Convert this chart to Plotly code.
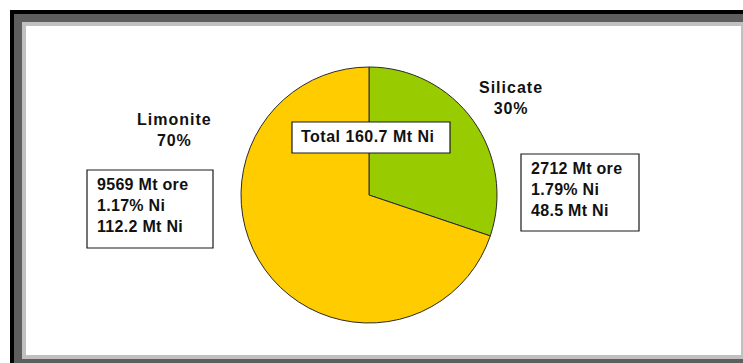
import plotly.graph_objects as go

# Nickel resources by ore type
ore_types = ["Silicate", "Limonite"]
ore_mt = [2712, 9569]          # Mt of ore
grade_pct = [1.79, 1.17]       # % Ni
ni_mt = [48.5, 112.2]          # Mt contained Ni
slice_colors = ["#99CC00", "#FFCC00"]

W, H = 743, 363
total_ni = sum(ni_mt)
shares = [v / total_ni * 100 for v in ni_mt]


def px(x):
    return x / W


def py(y):
    return 1 - y / H


FONT = "Liberation Sans, Arial, sans-serif"

fig = go.Figure()
fig.add_trace(go.Pie(
    labels=ore_types,
    values=ni_mt,
    sort=False,
    direction="clockwise",
    rotation=0,
    marker=dict(colors=slice_colors, line=dict(color="#2a2a2a", width=1)),
    textinfo="none",
    hoverinfo="label+value+percent",
    showlegend=False,
    domain=dict(x=[px(241), px(497)], y=[py(323), py(67)]),
))

# Framed panel: dark outer edge, grey bevel, white interior
frame = [
    ((10, 10, 760, 380), "#000000"),
    ((14, 14, 760, 380), "#5e5e5e"),
    ((22, 22, 760, 359), "#c0c0c0"),
    ((26, 26, 741, 355), "#ffffff"),
]
shapes = []
for (x0, y0, x1, y1), col in frame:
    shapes.append(dict(type="rect", xref="paper", yref="paper",
                       x0=px(x0), x1=px(x1), y0=py(y1), y1=py(y0),
                       fillcolor=col, line=dict(width=0), layer="below"))

# Boxes around the ore summaries and the total
boxes = [(521, 154, 639, 231), (87, 170, 213, 248), (292, 122, 450, 153)]
for x0, y0, x1, y1 in boxes:
    shapes.append(dict(type="rect", xref="paper", yref="paper",
                       x0=px(x0), x1=px(x1), y0=py(y1), y1=py(y0),
                       fillcolor="#ffffff", line=dict(color="#1a1a1a", width=1.2),
                       layer="above"))


def spaced(txt, sp):
    return f'<span style="letter-spacing:{sp}px">{txt}</span>'


annotations = []
# Category names with shares
label_pos = [(511, 97.5), (174, 130)]
for name, share, (lx, ly) in zip(ore_types, shares, label_pos):
    annotations.append(dict(
        x=px(lx), y=py(ly), xref="paper", yref="paper",
        text=spaced(name, 1) + "<br>" + spaced(f"{share:.0f}%", 0.8),
        showarrow=False, xanchor="center", yanchor="middle", align="center",
        font=dict(family=FONT, size=16, color="#111111", weight="bold"),
    ))

# Ore tonnage, grade and contained nickel
detail_pos = [(529, 190), (95, 206)]
for ore, g, ni, (dx, dy) in zip(ore_mt, grade_pct, ni_mt, detail_pos):
    lines = [f"{ore} Mt ore", f"{g:.2f}% Ni", f"{ni:.1f} Mt Ni"]
    annotations.append(dict(
        x=px(dx), y=py(dy), xref="paper", yref="paper",
        text="<br>".join(spaced(s, 0.3) for s in lines),
        showarrow=False, xanchor="left", yanchor="middle", align="left",
        font=dict(family=FONT, size=16, color="#111111", weight="bold"),
    ))

annotations.append(dict(
    x=px(368), y=py(137), xref="paper", yref="paper",
    text=spaced(f"Total {total_ni:.1f} Mt Ni", 0.5),
    showarrow=False, xanchor="center", yanchor="middle",
    font=dict(family=FONT, size=16, color="#111111", weight="bold"),
))

fig.update_layout(
    width=W, height=H,
    margin=dict(l=0, r=0, t=0, b=0),
    paper_bgcolor="#ffffff",
    plot_bgcolor="#ffffff",
    shapes=shapes,
    annotations=annotations,
)

fig.write_html("out.html", config=dict(displayModeBar=False))
